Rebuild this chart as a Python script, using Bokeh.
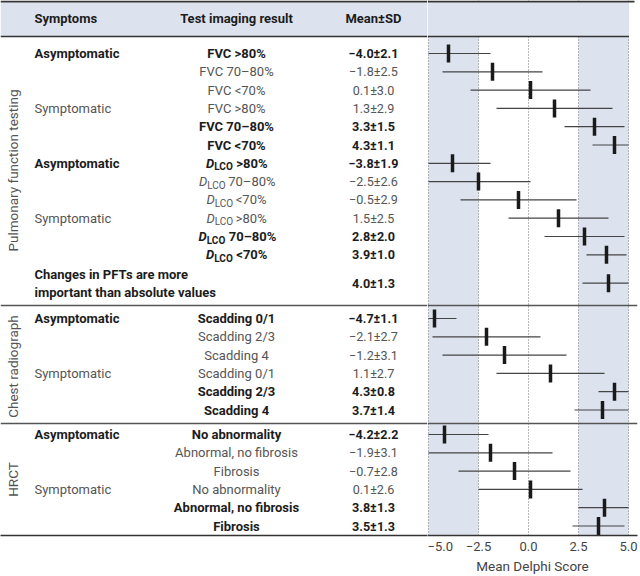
import numpy as np
from bokeh.plotting import figure
from bokeh.layouts import row
from bokeh.models import Range1d, FixedTicker, CustomJSTickFormatter, ColumnDataSource
from bokeh.core.properties import value
from bokeh.embed import file_html
from bokeh.resources import INLINE

# ---------------- data ----------------
groups = ["Pulmonary function testing", "Chest radiograph", "HRCT"]

pft_symptoms = ["Asymptomatic", "", "", "Symptomatic", "", "", "Asymptomatic", "", "",
                "Symptomatic", "", "", "Changes in PFTs are more\nimportant than absolute values"]
pft_tests = ["FVC >80%", "FVC 70–80%", "FVC <70%", "FVC >80%", "FVC 70–80%", "FVC <70%",
             "DLCO >80%", "DLCO 70–80%", "DLCO <70%", "DLCO >80%", "DLCO 70–80%", "DLCO <70%", ""]
pft_means = [-4.0, -1.8, 0.1, 1.3, 3.3, 4.3, -3.8, -2.5, -0.5, 1.5, 2.8, 3.9, 4.0]
pft_sds = [2.1, 2.5, 3.0, 2.9, 1.5, 1.1, 1.9, 2.6, 2.9, 2.5, 2.0, 1.0, 1.3]
pft_bold = [1, 0, 0, 0, 1, 1, 1, 0, 0, 0, 1, 1, 1]

cxr_symptoms = ["Asymptomatic", "", "", "Symptomatic", "", ""]
cxr_tests = ["Scadding 0/1", "Scadding 2/3", "Scadding 4", "Scadding 0/1", "Scadding 2/3", "Scadding 4"]
cxr_means = [-4.7, -2.1, -1.2, 1.1, 4.3, 3.7]
cxr_sds = [1.1, 2.7, 3.1, 2.7, 0.8, 1.4]
cxr_bold = [1, 0, 0, 0, 1, 1]

hrct_symptoms = ["Asymptomatic", "", "", "Symptomatic", "", ""]
hrct_tests = ["No abnormality", "Abnormal, no fibrosis", "Fibrosis", "No abnormality",
              "Abnormal, no fibrosis", "Fibrosis"]
hrct_means = [-4.2, -1.9, -0.7, 0.1, 3.8, 3.5]
hrct_sds = [2.2, 3.1, 2.8, 2.6, 1.3, 1.3]
hrct_bold = [1, 0, 0, 0, 1, 1]

headers = ["Symptoms", "Test imaging result", "Mean±SD"]
x_ticks = [-5.0, -2.5, 0.0, 2.5, 5.0]
zones = [(-5.0, -2.5), (2.5, 5.0)]
x_label = "Mean Delphi Score"

# ---------------- layout (pixel coordinates of the page) ----------------
FONT = "Roboto"
C_BOLD = "#1c1c1c"
C_REG = "#555555"
BAND = "#dce3ef"
W_TOTAL, H_TOTAL = 640, 576
WL = 427
WR = W_TOTAL - WL
FRAME_WR = 210
Y_BOTTOM = 535
GROUP_FIRST = [53, 318, 434]
GROUP_CENTER = [170, 366, 479]
STEP = 18.3
SEPS = [305, 423]
HEADER_Y = 18
HEADER_LINE = 36
SYM_X, TEST_X, VAL_X, GRP_X = 34, 236, 373, 12
FS = 13
FS_VAL = 12.6
FS_SUB = 10
CHAR_W = {"<": 6.8, ">": 6.8, "%": 9.6, "–": 7.2, " ": 3.2}

group_data = [
    (pft_symptoms, pft_tests, pft_means, pft_sds, pft_bold),
    (cxr_symptoms, cxr_tests, cxr_means, cxr_sds, cxr_bold),
    (hrct_symptoms, hrct_tests, hrct_means, hrct_sds, hrct_bold),
]

common = dict(output_backend="svg", toolbar_location=None, height=H_TOTAL,
              min_border_top=0, min_border_bottom=H_TOTAL - Y_BOTTOM, min_border_left=0,
              background_fill_color="white", border_fill_color="white",
              outline_line_color=None)

left = figure(width=WL, x_range=Range1d(0, WL), y_range=Range1d(Y_BOTTOM, 0),
              min_border_right=0, y_axis_location=None, **common)
right = figure(width=WR, x_range=Range1d(-5.05, 5.45), y_range=Range1d(Y_BOTTOM, 0),
               min_border_right=WR - FRAME_WR, y_axis_location=None, **common)

for p in (left, right):
    p.ygrid.visible = False
    p.xaxis.axis_line_color = "#333333"
    p.xaxis.axis_line_width = 1.3
    p.xaxis.major_tick_line_color = None
    p.xaxis.minor_tick_line_color = None
    p.xaxis.major_tick_in = 0
    p.xaxis.major_tick_out = 0

left.xgrid.visible = False
left.xaxis.ticker = FixedTicker(ticks=[])

right.xaxis.ticker = FixedTicker(ticks=x_ticks)
right.xaxis.formatter = CustomJSTickFormatter(code="return tick.toFixed(1).replace('-', '\u2212');")
right.xaxis.major_label_text_font = FONT
right.xaxis.major_label_text_font_size = "13px"
right.xaxis.major_label_text_color = "#444444"
right.xaxis.major_label_standoff = 6
right.xaxis.axis_label = x_label
right.xaxis.axis_label_text_font = FONT
right.xaxis.axis_label_text_font_size = "13.5px"
right.xaxis.axis_label_text_font_style = "normal"
right.xaxis.axis_label_text_color = "#444444"
right.xaxis.axis_label_standoff = 4
right.xgrid.ticker = FixedTicker(ticks=x_ticks)
right.xgrid.grid_line_color = "#707070"
right.xgrid.grid_line_dash = "1 2"
right.xgrid.grid_line_width = 1

# shaded zones (under the grid)
right.quad(left=[z[0] for z in zones], right=[z[1] for z in zones], top=HEADER_LINE,
           bottom=Y_BOTTOM, fill_color=BAND, line_color=None, level="image")

# header band and rules
left.quad(left=0, right=WL, top=2, bottom=HEADER_LINE, fill_color=BAND, line_color=None)
right.quad(left=-5.05, right=5.02, top=2, bottom=HEADER_LINE, fill_color=BAND, line_color=None)
left.segment(x0=0, x1=WL, y0=1, y1=1, line_color="#333333", line_width=2)
right.segment(x0=-5.05, x1=5.3, y0=1, y1=1, line_color="#333333", line_width=2)
left.segment(x0=0, x1=WL, y0=HEADER_LINE, y1=HEADER_LINE, line_color="#333333", line_width=1.3)
right.segment(x0=-5.05, x1=5.02, y0=HEADER_LINE, y1=HEADER_LINE, line_color="#333333", line_width=1.3)
left.hspan(y=SEPS, line_color="#555555", line_width=1.3)
right.hspan(y=SEPS, line_color="#555555", line_width=1.3)

# ---------------- texts ----------------
texts = {}


def add(x, y, t, style, color, align="center", size=FS):
    d = texts.setdefault((size, align), dict(x=[], y=[], text=[], style=[], color=[]))
    d["x"].append(x)
    d["y"].append(y)
    d["text"].append(t)
    d["style"].append(style)
    d["color"].append(color)


def put_test(label, y, bold):
    style = "bold" if bold else "normal"
    color = C_BOLD if bold else C_REG
    if label.startswith("DLCO"):
        rest = label[4:].strip()
        w_rest = sum(CHAR_W.get(c, 7.3) for c in rest)
        w_lco = 19.0 if bold else 18.0
        gap = 3
        w_pre = 8.5 + w_lco + gap
        split = TEST_X - (w_rest - w_pre) / 2
        add(split, y, rest, style, color, "left")
        add(split - gap - w_lco, y + 3.5, "LCO", style, color, "left", FS_SUB)
        add(split - gap - w_lco, y, "D", "bold italic" if bold else "italic", color, "right")
    elif label:
        add(TEST_X, y, label, style, color)


all_y, all_m, all_s = [], [], []
for gi, (syms, tests, means, sds, bolds) in enumerate(group_data):
    for i in range(len(means)):
        multi = "\n" in syms[i]
        y = GROUP_FIRST[gi] + i * STEP + (STEP * 0.55 if multi else 0)
        b = bolds[i]
        style = "bold" if b else "normal"
        color = C_BOLD if b else C_REG
        if syms[i]:
            add(SYM_X, y, syms[i], style, color, "left")
        put_test(tests[i], y, b)
        add(VAL_X, y, f"{means[i]:.1f}±{sds[i]:.1f}".replace("-", "\u2212"), style, color,
            "center", FS_VAL)
        all_y.append(y)
        all_m.append(means[i])
        all_s.append(sds[i])

add(SYM_X, HEADER_Y, headers[0], "bold", C_BOLD, "left")
add(TEST_X, HEADER_Y, headers[1], "bold", C_BOLD)
add(VAL_X, HEADER_Y, headers[2], "bold", C_BOLD)

for (size, align), d in texts.items():
    left.text(x="x", y="y", text="text", source=ColumnDataSource(d),
              text_font=value(FONT), text_font_size=f"{size}px", text_font_style="style",
              text_color="color", text_align=align, text_baseline="middle",
              text_line_height=1.22)

left.text(x=[GRP_X] * 3, y=GROUP_CENTER, text=groups, angle=np.pi / 2,
          text_font=value(FONT), text_font_size="13.5px", text_color=C_REG,
          text_align="center", text_baseline="middle")

# ---------------- forest marks ----------------
m = np.array(all_m)
s = np.array(all_s)
src = ColumnDataSource(dict(y=all_y, mean=m, lo=np.clip(m - s, -5, 5), hi=np.clip(m + s, -5, 5)))
right.segment(x0="lo", x1="hi", y0="y", y1="y", source=src, line_color="#444444", line_width=1.2)
right.rect(x="mean", y="y", width=3.5, height=18, width_units="screen", height_units="screen",
           source=src, fill_color="#1a1a1a", line_color=None)

layout = row(left, right)
open("out.html", "w").write(file_html(layout, INLINE, title="Delphi scores"))
